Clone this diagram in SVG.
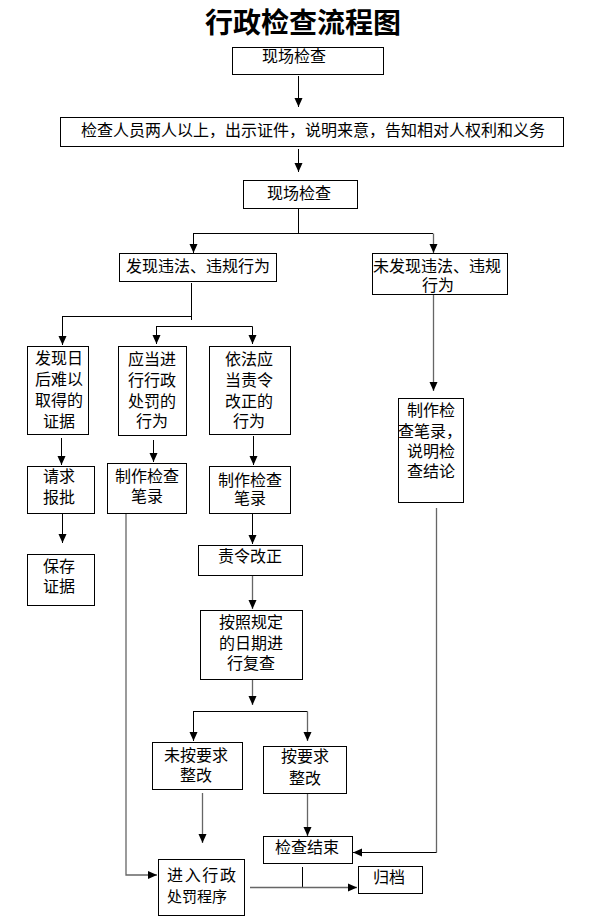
<svg xmlns="http://www.w3.org/2000/svg" width="606" height="916" viewBox="0 0 606 916">
<style>
.bg{fill:#fff}
.box{fill:#fff;stroke:#000;stroke-width:1}
.t{font-family:"Noto Sans CJK SC","Liberation Sans",sans-serif;font-size:16px;fill:#000}
.c{text-anchor:middle}
.title{font-family:"Noto Sans CJK SC","Liberation Serif",serif;font-size:28px;font-weight:bold;fill:#000;text-anchor:middle}
.ln{fill:none;stroke:#000;stroke-width:1}
.lg{fill:none;stroke:#666;stroke-width:1.3}
</style>
<defs>
<marker id="ah" markerUnits="userSpaceOnUse" markerWidth="10" markerHeight="10" viewBox="0 0 10 10" refX="9" refY="5" orient="auto">
<path d="M0,1 L9,5 L0,9 Z" fill="#000"/>
</marker>
</defs>
<rect class="bg" x="0" y="0" width="606" height="916"/>
<text class="title" x="303" y="33">行政检查流程图</text>

<g id="connectors">
<path class="ln" d="M298.5,76 V107" marker-end="url(#ah)"/>
<path class="ln" d="M298.5,149 V172" marker-end="url(#ah)"/>
<path class="ln" d="M298.5,209 V233.5 M193,233.5 H433"/>
<path class="ln" d="M193.5,233.5 V253" marker-end="url(#ah)"/>
<path class="lg" d="M433.5,233.5 V253" marker-end="url(#ah)"/>
<path class="ln" d="M191.5,283 V320 M62,316.5 H191.5"/>
<path class="ln" d="M62.5,316.5 V345" marker-end="url(#ah)"/>
<path class="ln" d="M156,326.5 H252.5"/>
<path class="ln" d="M156.5,326.5 V344" marker-end="url(#ah)"/>
<path class="ln" d="M252.5,326.5 V344" marker-end="url(#ah)"/>
<path class="lg" d="M433.5,294 V391" marker-end="url(#ah)"/>
<path class="ln" d="M61.5,438 V465" marker-end="url(#ah)"/>
<path class="ln" d="M153.5,440 V462" marker-end="url(#ah)"/>
<path class="ln" d="M253.5,436 V465" marker-end="url(#ah)"/>
<path class="ln" d="M62.5,513 V543" marker-end="url(#ah)"/>
<path class="lg" d="M126,513 V875 H157" marker-end="url(#ah)"/>
<path class="ln" d="M252.5,513 V544" marker-end="url(#ah)"/>
<path class="lg" d="M252.5,575 V609" marker-end="url(#ah)"/>
<path class="lg" d="M252.5,679 V705" marker-end="url(#ah)"/>
<path class="ln" d="M193,711.5 H307.5"/>
<path class="ln" d="M193.5,711.5 V741" marker-end="url(#ah)"/>
<path class="lg" d="M307.5,711.5 V741" marker-end="url(#ah)"/>
<path class="lg" d="M202.5,793 V843" marker-end="url(#ah)"/>
<path class="lg" d="M307.5,793 V836" marker-end="url(#ah)"/>
<path class="lg" d="M436.5,508 V852.5"/>
<path class="ln" d="M436.5,852.5 H353" marker-end="url(#ah)"/>
<path class="ln" d="M302.5,867 V887.5"/>
<path class="lg" d="M250,887.5 H357" marker-end="url(#ah)"/>
</g>

<g id="n1"><rect class="box" x="232.5" y="47.5" width="151" height="27"/><text class="t" x="262" y="62">现场检查</text></g>
<g id="n2"><rect class="box" x="60.5" y="117.5" width="503" height="29"/><text class="t" x="81" y="136">检查人员两人以上，出示证件，说明来意，告知相对人权利和义务</text></g>
<g id="n3"><rect class="box" x="243.5" y="180.5" width="114" height="28"/><text class="t" x="267" y="199">现场检查</text></g>
<g id="n4"><rect class="box" x="119.5" y="253.5" width="157" height="28"/><text class="t" x="126" y="272">发现违法、违规行为</text></g>
<g id="n5"><rect class="box" x="372.5" y="253.5" width="135" height="41"/><text class="t" x="373" y="272">未发现违法、违规</text><text class="t" x="422" y="291">行为</text></g>
<g id="n6"><rect class="box" x="27.5" y="346.5" width="61" height="88"/>
<text class="t c" x="59" y="364">发现日</text><text class="t c" x="59" y="385">后难以</text><text class="t c" x="59" y="406">取得的</text><text class="t c" x="59" y="427">证据</text></g>
<g id="n7"><rect class="box" x="118.5" y="346.5" width="68" height="89"/>
<text class="t c" x="152" y="365">应当进</text><text class="t c" x="152" y="386">行行政</text><text class="t c" x="152" y="407">处罚的</text><text class="t c" x="152" y="427">行为</text></g>
<g id="n8"><rect class="box" x="209.5" y="346.5" width="81" height="88"/>
<text class="t c" x="249" y="365">依法应</text><text class="t c" x="249" y="386">当责令</text><text class="t c" x="249" y="407">改正的</text><text class="t c" x="249" y="427">行为</text></g>
<g id="n9"><rect class="box" x="27.5" y="466.5" width="67" height="47"/><text class="t c" x="59" y="482">请求</text><text class="t c" x="59" y="503">报批</text></g>
<g id="n10"><rect class="box" x="107.5" y="463.5" width="79" height="50"/><text class="t c" x="147" y="482">制作检查</text><text class="t c" x="147" y="502">笔录</text></g>
<g id="n11"><rect class="box" x="209.5" y="466.5" width="81" height="47"/><text class="t c" x="250" y="486">制作检查</text><text class="t c" x="250" y="504">笔录</text></g>
<g id="n12"><rect class="box" x="27.5" y="554.5" width="67" height="51"/><text class="t c" x="59" y="572">保存</text><text class="t c" x="59" y="592">证据</text></g>
<g id="n13"><rect class="box" x="198.5" y="545.5" width="104" height="30"/><text class="t c" x="250" y="562">责令改正</text></g>
<g id="n14"><rect class="box" x="200.5" y="610.5" width="102" height="69"/>
<text class="t c" x="251" y="628">按照规定</text><text class="t c" x="251" y="649">的日期进</text><text class="t c" x="251" y="669">行复查</text></g>
<g id="n15"><rect class="box" x="152.5" y="742.5" width="90" height="47"/><text class="t c" x="196" y="761">未按要求</text><text class="t c" x="196" y="781">整改</text></g>
<g id="n16"><rect class="box" x="263.5" y="746.5" width="83" height="47"/><text class="t c" x="305" y="762">按要求</text><text class="t c" x="305" y="784">整改</text></g>
<g id="n17"><rect class="box" x="263.5" y="836.5" width="89" height="27"/><text class="t c" x="307" y="853">检查结束</text></g>
<g id="n18"><rect class="box" x="158.5" y="859.5" width="86" height="56"/><text class="t" x="167" y="881" textLength="69" lengthAdjust="spacing">进 入 行 政</text><text class="t" x="167" y="902" style="font-size:15px">处罚程序</text></g>
<g id="n19"><rect class="box" x="358.5" y="866.5" width="64" height="27"/><text class="t c" x="389" y="883">归档</text></g>
<g id="n20"><rect class="box" x="398.5" y="398.5" width="65" height="104"/>
<text class="t c" x="431" y="416">制作检</text><text class="t" x="398" y="437">查笔录，</text><text class="t c" x="431" y="457">说明检</text><text class="t c" x="431" y="477">查结论</text></g>
</svg>
